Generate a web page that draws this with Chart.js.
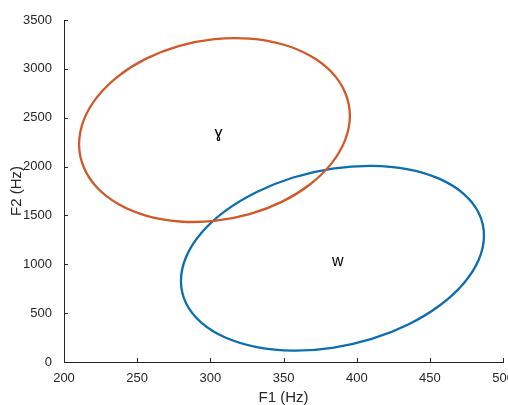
<!DOCTYPE html>
<html>
<head>
<meta charset="utf-8">
<script src="https://cdn.jsdelivr.net/npm/chart.js@4.4.1/dist/chart.umd.min.js"></script>
<style>
  html, body { margin: 0; padding: 0; background: #fff; overflow: hidden; }
  #wrap { width: 508px; height: 405px; overflow: hidden; }
</style>
</head>
<body>
<div id="wrap"><canvas id="chart" width="515" height="405"></canvas></div>
<script>
// ellipse contours (F1, F2 in Hz)
const gammaF1 = [395.3, 392.1, 382.9, 368.2, 349.1, 326.7, 302.8, 278.9, 256.5, 237.4, 222.7, 213.5,
                 210.3, 213.5, 222.7, 237.4, 256.5, 278.9, 302.8, 326.7, 349.1, 368.2, 382.9, 392.1];
const gammaF2 = [2519, 2273, 2035, 1819, 1641, 1513, 1444, 1438, 1496, 1614, 1783, 1993,
                 2229, 2475, 2713, 2929, 3107, 3235, 3304, 3310, 3252, 3134, 2965, 2755];

const wF1 = [486.9, 483.4, 473.0, 456.6, 435.2, 410.2, 383.4, 356.6, 331.7, 310.2, 293.8, 283.4,
             279.9, 283.4, 293.8, 310.2, 331.7, 356.6, 383.4, 410.2, 435.2, 456.6, 473.0, 483.4];
const wF2 = [1294, 1049, 804, 578, 384, 236, 145, 116, 152, 250, 403, 601,
             830, 1075, 1320, 1546, 1740, 1888, 1979, 2008, 1972, 1874, 1721, 1523];

// text labels placed at the ellipse centres
const labelText = ['ɣ', 'w'];
const labelF1 = [305.5, 387];
const labelF2 = [2340, 1025];

const xTicks = [200, 250, 300, 350, 400, 450, 500];
const yTicks = [0, 500, 1000, 1500, 2000, 2500, 3000, 3500];

const FONT = "'Liberation Sans', Arial, Helvetica, sans-serif";
const AXIS = '#262626';

function toPoints(xs, ys) {
    return xs.map((x, i) => ({ x, y: ys[i] }));
}

// let the line element close itself smoothly (like a radar loop)
const closedCurves = {
    id: 'closedCurves',
    afterDatasetUpdate(chart, args) {
        const el = args.meta.dataset;
        if (el) {
            el._loop = true;
            el._fullLoop = true;
        }
    }
};

// MATLAB style ticks that point into the plot
const innerTicks = {
    id: 'innerTicks',
    afterDraw(chart) {
        const { ctx, scales: { x, y } } = chart;
        ctx.save();
        ctx.strokeStyle = AXIS;
        ctx.lineWidth = 1;
        ctx.beginPath();
        xTicks.forEach(v => {
            const px = Math.round(x.getPixelForValue(v)) + 0.5;
            ctx.moveTo(px, y.bottom);
            ctx.lineTo(px, y.bottom - 4);
        });
        yTicks.forEach(v => {
            const py = Math.round(y.getPixelForValue(v)) + 0.5;
            ctx.moveTo(x.left, py);
            ctx.lineTo(x.left + 4, py);
        });
        ctx.stroke();
        ctx.restore();
    }
};

const textLabels = {
    id: 'textLabels',
    afterDatasetsDraw(chart) {
        const { ctx, scales: { x, y } } = chart;
        ctx.save();
        ctx.fillStyle = '#000';
        ctx.font = '16px ' + FONT;
        ctx.textAlign = 'center';
        ctx.textBaseline = 'middle';
        labelText.forEach((t, i) => {
            ctx.fillText(t, x.getPixelForValue(labelF1[i]), y.getPixelForValue(labelF2[i]));
        });
        ctx.restore();
    }
};

new Chart(document.getElementById('chart'), {
    type: 'scatter',
    data: {
        datasets: [
            {
                label: 'ɣ',
                data: toPoints(gammaF1, gammaF2),
                showLine: true,
                borderColor: '#D0592A',
                borderWidth: 2.3,
                pointRadius: 0,
                tension: 0.4,
                fill: false
            },
            {
                label: 'w',
                data: toPoints(wF1, wF2),
                showLine: true,
                borderColor: '#0A6EB0',
                borderWidth: 2.3,
                pointRadius: 0,
                tension: 0.4,
                fill: false
            }
        ]
    },
    options: {
        responsive: false,
        animation: false,
        layout: { padding: { top: 20, right: 0, bottom: 0, left: 0 } },
        plugins: {
            legend: { display: false },
            tooltip: { enabled: false }
        },
        scales: {
            x: {
                type: 'linear',
                min: 200,
                max: 500,
                afterFit(scale) { scale.height = 43; },
                afterBuildTicks(scale) { scale.ticks = xTicks.map(v => ({ value: v })); },
                grid: { display: false },
                border: { color: AXIS, width: 1 },
                ticks: {
                    color: AXIS, padding: 1, maxRotation: 0,
                    font: { family: FONT, size: 13 },
                    callback: v => String(v)
                },
                title: {
                    display: true,
                    text: 'F1 (Hz)',
                    color: AXIS,
                    padding: { top: 0, bottom: -2 },
                    font: { family: FONT, size: 15 }
                }
            },
            y: {
                type: 'linear',
                min: 0,
                max: 3500,
                afterFit(scale) { scale.width = 64; },
                afterBuildTicks(scale) { scale.ticks = yTicks.map(v => ({ value: v })); },
                grid: { display: false },
                border: { color: AXIS, width: 1 },
                ticks: {
                    color: AXIS, padding: 4,
                    font: { family: FONT, size: 13 },
                    callback: v => String(v)
                },
                title: {
                    display: true,
                    text: 'F2 (Hz)',
                    color: AXIS,
                    padding: { top: 8, bottom: 0 },
                    font: { family: FONT, size: 15 }
                }
            }
        }
    },
    plugins: [closedCurves, innerTicks, textLabels]
});
</script>
</body>
</html>
